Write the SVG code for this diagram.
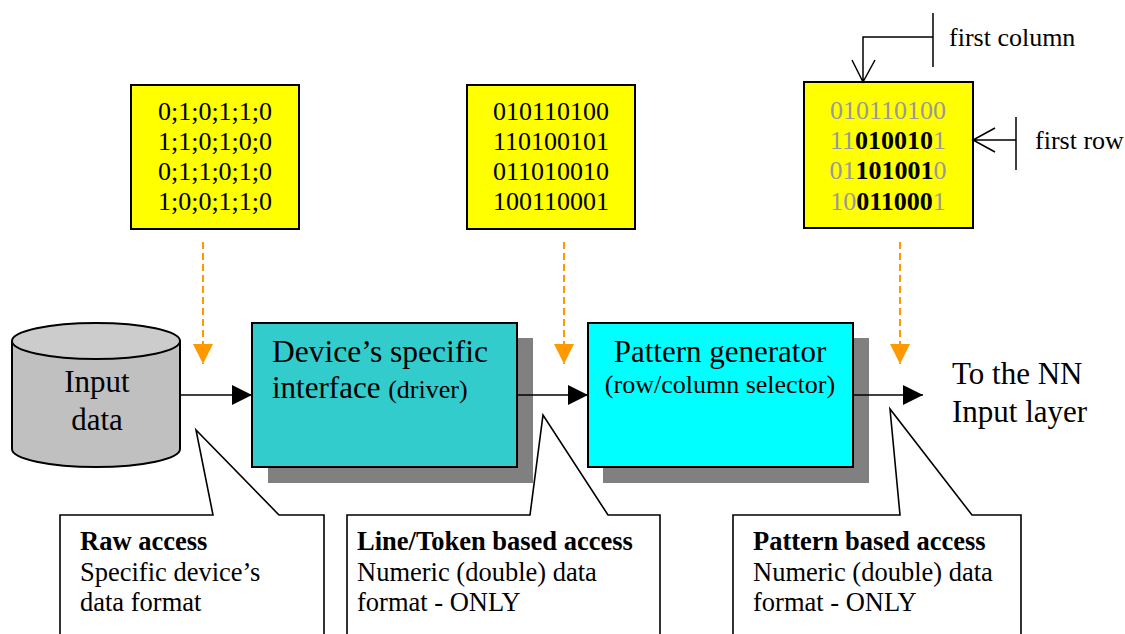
<svg xmlns="http://www.w3.org/2000/svg" width="1125" height="634" viewBox="0 0 1125 634">
<defs>
<style>
text{font-family:"Liberation Serif","Times New Roman",serif;fill:#000}
.big{font-size:31px}
.mid{font-size:26px}
.dat{font-size:26px;text-anchor:middle}
.call{font-size:26.5px}
.b{font-weight:bold}
.g{fill:#999999}
.yel{fill:#FFFF00;stroke:#000;stroke-width:2}
.shadow{fill:#808080}
.conn{stroke:#000;stroke-width:1.6;fill:none}
.dash{stroke:#FF9900;stroke-width:2;stroke-dasharray:7,4;fill:none}
.callout{fill:#fff;stroke:#000;stroke-width:1.6}
.thin{stroke:#000;stroke-width:1.5;fill:none}
</style>
<marker id="ah" markerWidth="20" markerHeight="20" viewBox="0 0 20 20" refX="20" refY="10" orient="auto" markerUnits="userSpaceOnUse">
<path d="M0,0 L20,10 L0,20 Z" fill="#000"/>
</marker>
<marker id="oh" markerWidth="20" markerHeight="20" viewBox="0 0 20 20" refX="20" refY="10" orient="auto" markerUnits="userSpaceOnUse">
<path d="M0,0 L20,10 L0,20 Z" fill="#FF9900"/>
</marker>
</defs>
<rect width="1125" height="634" fill="#fff"/>

<g id="data-csv">
<rect class="yel" x="131" y="85" width="168" height="144"/>
<text class="dat" x="215" y="120">0;1;0;1;1;0</text>
<text class="dat" x="215" y="150">1;1;0;1;0;0</text>
<text class="dat" x="215" y="180">0;1;1;0;1;0</text>
<text class="dat" x="215" y="210">1;0;0;1;1;0</text>
</g>

<g id="data-binary">
<rect class="yel" x="467" y="85" width="168" height="144"/>
<text class="dat" x="551" y="120">010110100</text>
<text class="dat" x="551" y="150">110100101</text>
<text class="dat" x="551" y="180">011010010</text>
<text class="dat" x="551" y="210">100110001</text>
</g>

<g id="data-pattern">
<rect class="yel" x="804" y="82" width="169" height="146"/>
<text class="dat g" x="888" y="119">010110100</text>
<text class="dat" x="888" y="149"><tspan class="g">11</tspan><tspan class="b">010010</tspan><tspan class="g">1</tspan></text>
<text class="dat" x="888" y="179"><tspan class="g">01</tspan><tspan class="b">101001</tspan><tspan class="g">0</tspan></text>
<text class="dat" x="888" y="210"><tspan class="g">10</tspan><tspan class="b">011000</tspan><tspan class="g">1</tspan></text>
</g>

<g id="first-column">
<path class="thin" d="M933,13 V67 M933,37 H863 V82 M852,60 L863,82 L875,60"/>
<text class="mid" x="949" y="46">first column</text>
</g>

<g id="first-row">
<path class="thin" d="M1016,117 V170 M1016,140 H973 M995,128 L973,140 L995,152"/>
<text class="mid" x="1035" y="149">first row</text>
</g>

<g id="input-data">
<path d="M12,341 V449 A84,18 0 0 0 180,449 V341 Z" fill="#C0C0C0" stroke="#000" stroke-width="2"/>
<ellipse cx="96" cy="341" rx="84" ry="18" fill="#CCCCCC" stroke="#000" stroke-width="2"/>
<text class="big" x="97" y="392" text-anchor="middle">Input</text>
<text class="big" x="97" y="430" text-anchor="middle">data</text>
</g>

<g id="device-interface">
<rect class="shadow" x="268" y="338" width="265" height="145"/>
<rect x="252" y="323" width="265" height="144" fill="#33CCCC" stroke="#000" stroke-width="2"/>
<text x="272" y="362" font-size="31.5px">Device’s specific</text>
<text x="272" y="398"><tspan class="big">interface </tspan><tspan class="mid">(driver)</tspan></text>
</g>

<g id="pattern-generator">
<rect class="shadow" x="603" y="338" width="266" height="145"/>
<rect x="588" y="323" width="265" height="144" fill="#00FFFF" stroke="#000" stroke-width="2"/>
<text class="big" x="720" y="362" text-anchor="middle">Pattern generator</text>
<text class="mid" x="720" y="393" text-anchor="middle">(row/column selector)</text>
</g>

<g id="nn-input">
<text class="big" x="952" y="384">To the NN</text>
<text class="big" x="952" y="422">Input layer</text>
</g>

<g id="connectors">
<line class="conn" x1="180" y1="395" x2="252" y2="395" marker-end="url(#ah)"/>
<line class="conn" x1="517" y1="395" x2="588" y2="395" marker-end="url(#ah)"/>
<line class="conn" x1="853" y1="395" x2="923" y2="395" marker-end="url(#ah)"/>
<line class="dash" x1="203" y1="242" x2="203" y2="364" marker-end="url(#oh)"/>
<line class="dash" x1="564" y1="242" x2="564" y2="364" marker-end="url(#oh)"/>
<line class="dash" x1="900" y1="242" x2="900" y2="364" marker-end="url(#oh)"/>
</g>

<g id="callout-raw">
<path class="callout" d="M60,640 V515 H213 L196,430 L279,515 H324 V640"/>
<text class="call b" x="80" y="550">Raw access</text>
<text class="call" x="80" y="581">Specific device’s</text>
<text class="call" x="80" y="611">data format</text>
</g>

<g id="callout-line">
<path class="callout" d="M347,640 V515 H530 L543,415 L608,515 H660 V640"/>
<text class="call b" x="357" y="550">Line/Token based access</text>
<text class="call" x="357" y="581">Numeric (double) data</text>
<text class="call" x="357" y="611">format - ONLY</text>
</g>

<g id="callout-pattern">
<path class="callout" d="M733,640 V515 H900 L890,409 L972,515 H1021 V640"/>
<text class="call b" x="753" y="550">Pattern based access</text>
<text class="call" x="753" y="581">Numeric (double) data</text>
<text class="call" x="753" y="611">format - ONLY</text>
</g>
</svg>
